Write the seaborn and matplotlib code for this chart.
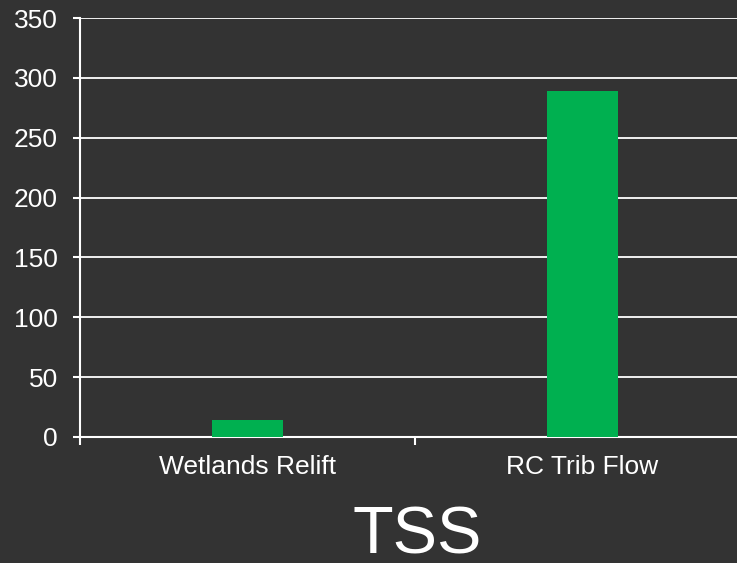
import matplotlib
matplotlib.use("Agg")
import matplotlib.pyplot as plt
import seaborn as sns
import pandas as pd
from matplotlib.ticker import FixedLocator

sites = ["Wetlands Relift", "RC Trib Flow"]
tss_values = [14, 289]
y_ticks = [0, 50, 100, 150, 200, 250, 300, 350]
chart_title = "TSS"

bg = "#333333"
green = "#00B050"

sns.set_theme(style="dark")
plt.rcParams["font.family"] = ["Liberation Sans", "DejaVu Sans"]

df = pd.DataFrame({"site": sites, "tss": tss_values})

fig = plt.figure(figsize=(7.37, 5.63), dpi=100, facecolor=bg)
ax = fig.add_axes([80 / 737, (563 - 437) / 563, 670 / 737, 419 / 563])
ax.set_facecolor(bg)

sns.barplot(data=df, x="site", y="tss", color=green, width=0.21,
            saturation=1, edgecolor=green, linewidth=0, ax=ax, zorder=3)

ax.set_xlim(-0.5, 1.5)
ax.set_ylim(0, 350)
ax.set_yticks(y_ticks)
ax.set_xlabel("")
ax.set_ylabel("")

ax.grid(axis="y", color="white", linewidth=1.3, zorder=1)
ax.grid(axis="x", visible=False)
ax.set_axisbelow(True)

for side in ["top", "right"]:
    ax.spines[side].set_visible(False)
for side in ["left", "bottom"]:
    ax.spines[side].set_visible(True)
    ax.spines[side].set_color("white")
    ax.spines[side].set_linewidth(1.5)

# Category boundary ticks on the x axis
ax.xaxis.set_minor_locator(FixedLocator([-0.5, 0.5, 1.5]))
ax.tick_params(axis="x", which="minor", bottom=True, length=6, width=1.5,
               color="white", direction="out")
ax.tick_params(axis="x", which="major", bottom=True, length=0, pad=13,
               labelsize=19, labelcolor="white")
ax.tick_params(axis="y", which="major", left=True, length=5, width=1.5,
               color="white", direction="out", pad=11, labelsize=19,
               labelcolor="white")

fig.text(417 / 737, (563 - 554) / 563, chart_title, color="white",
         fontsize=48, ha="center", va="baseline")

fig.savefig("out.png", dpi=100, facecolor=bg)
